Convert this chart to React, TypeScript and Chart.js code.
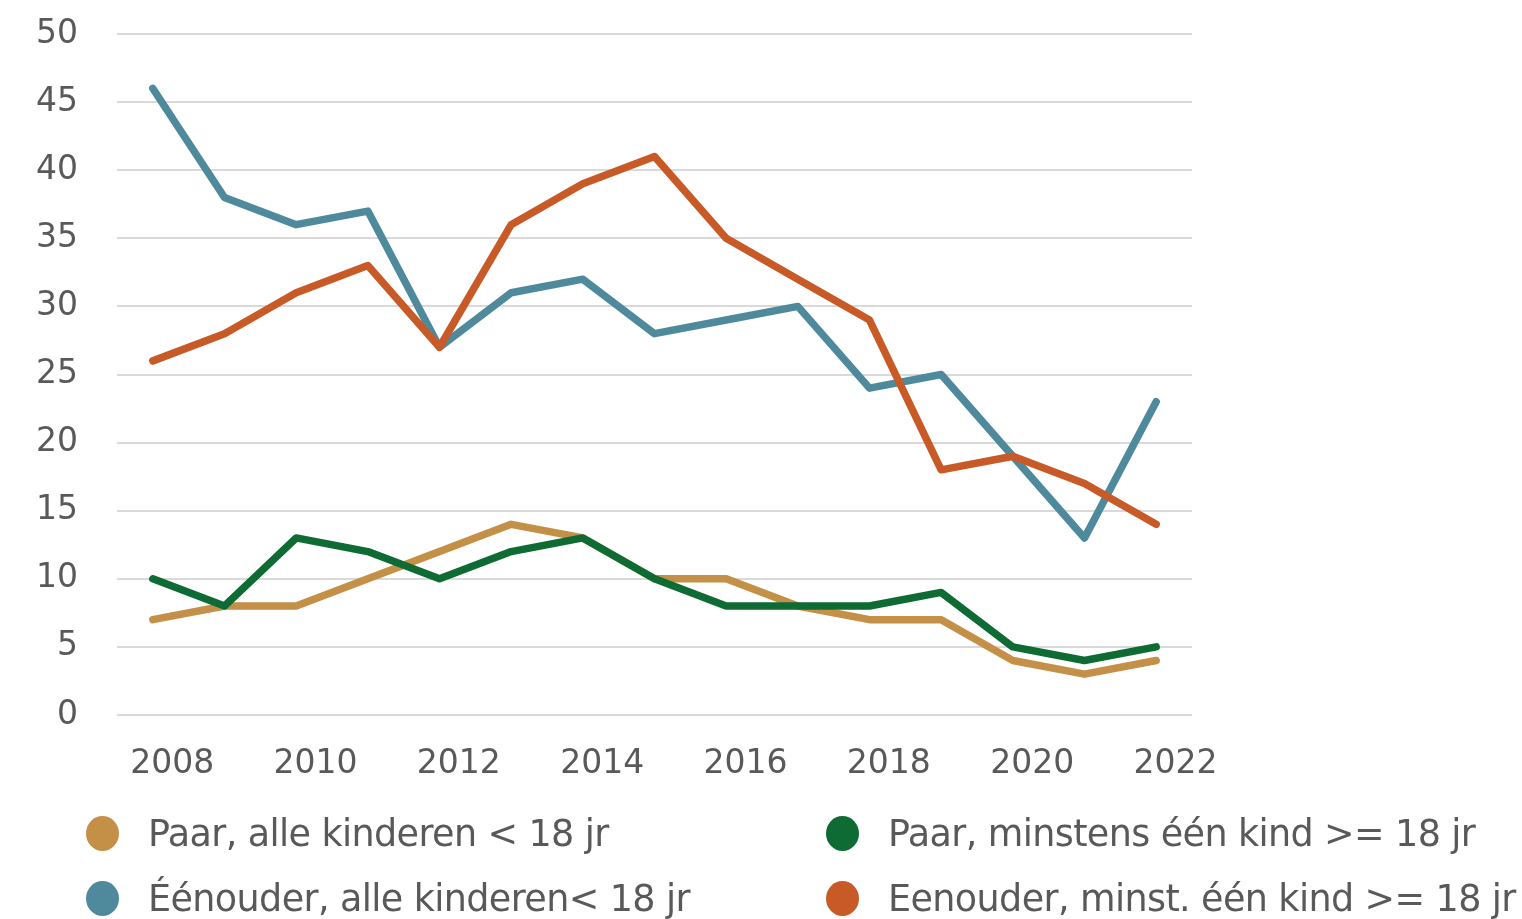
import React, { useEffect, useRef } from "react";
import { Chart, registerables } from "chart.js";

Chart.register(...registerables);

const categories = ["2008", "2009", "2010", "2011", "2012", "2013", "2014", "2015", "2016", "2017", "2018", "2019", "2020", "2021", "2022"];
const tickLabels = ["2008", "2010", "2012", "2014", "2016", "2018", "2020", "2022"];
const yTicks = [0, 5, 10, 15, 20, 25, 30, 35, 40, 45, 50];

const paarAlle = [7, 8, 8, 10, 12, 14, 13, 10, 10, 8, 7, 7, 4, 3, 4];
const paarMinstens = [10, 8, 13, 12, 10, 12, 13, 10, 8, 8, 8, 9, 5, 4, 5];
const eenouderAlle = [46, 38, 36, 37, 27, 31, 32, 28, 29, 30, 24, 25, 19, 13, 23];
const eenouderMinst = [26, 28, 31, 33, 27, 36, 39, 41, 35, 32, 29, 18, 19, 17, 14];

const seriesNames = [
  "Paar, alle kinderen < 18 jr",
  "Paar, minstens één kind >= 18 jr",
  "Éénouder, alle kinderen< 18 jr",
  "Eenouder, minst. één kind >= 18 jr",
];
const seriesColors = ["#C48F47", "#0E6B34", "#4F8A9C", "#C85A27"];
const seriesValues = [paarAlle, paarMinstens, eenouderAlle, eenouderMinst];
const drawOrder = [3, 2, 1, 0];

const FONT = "'DejaVu Sans', Verdana, sans-serif";
const TEXT = "#595959";

export default function App() {
  const ref = useRef<HTMLCanvasElement | null>(null);

  useEffect(() => {
    if (!ref.current) return;
    const chart = new Chart(ref.current, {
      type: "line",
      data: {
        labels: categories,
        datasets: seriesValues.map((vals, i) => ({
          label: seriesNames[i],
          data: vals,
          borderColor: seriesColors[i],
          backgroundColor: seriesColors[i],
          borderWidth: 7.5,
          borderCapStyle: "round" as const,
          borderJoinStyle: "round" as const,
          pointRadius: 0,
          tension: 0,
          order: drawOrder[i],
          xAxisID: "x",
        })),
      },
      options: {
        responsive: false,
        animation: false,
        layout: { padding: { top: 34, right: 330, bottom: 134, left: 0 } },
        plugins: { legend: { display: false }, tooltip: { enabled: false } },
        scales: {
          x: {
            type: "category",
            offset: true,
            display: false,
          },
          x2: {
            type: "linear",
            position: "bottom",
            min: -0.5,
            max: 14.5,
            grid: { display: false },
            border: { display: false },
            afterBuildTicks: (axis: any) => {
              axis.ticks = tickLabels.map((t) => ({ value: categories.indexOf(t) + 0.27 }));
            },
            afterFit: (axis: any) => {
              axis.height = 70;
              axis.paddingLeft = 0;
              axis.paddingRight = 0;
            },
            ticks: {
              padding: 22,
              color: TEXT,
              font: { family: FONT, size: 33 },
              maxRotation: 0,
              autoSkip: false,
              callback: (_v: any, idx: number) => tickLabels[idx],
            },
          },
          y: {
            min: 0,
            max: 50,
            afterBuildTicks: (axis: any) => {
              axis.ticks = yTicks.map((v) => ({ value: v }));
            },
            afterFit: (axis: any) => {
              axis.width = 117;
              axis.paddingTop = 0;
              axis.paddingBottom = 0;
            },
            grid: { color: "#D9D9D9", lineWidth: 2, drawTicks: false },
            border: { display: false },
            ticks: {
              padding: 39,
              color: TEXT,
              font: { family: FONT, size: 33 },
            },
          },
        },
      },
    });
    return () => chart.destroy();
  }, []);

  const legendPos = [
    { x: 103, y: 833 },
    { x: 843, y: 833 },
    { x: 103, y: 898 },
    { x: 843, y: 898 },
  ];

  return (
    <div style={{ position: "absolute", left: 0, top: 0, width: 1522, height: 919, background: "#fff", overflow: "hidden" }}>
      <canvas ref={ref} width={1522} height={919} style={{ display: "block" }} />
      {seriesNames.map((name, i) => (
        <div
          key={name}
          style={{
            position: "absolute",
            left: legendPos[i].x - 17,
            top: legendPos[i].y - 22,
            height: 44,
            display: "flex",
            alignItems: "center",
            whiteSpace: "nowrap",
            fontFamily: FONT,
            fontSize: 36.5,
            letterSpacing: -0.6,
            color: TEXT,
          }}
        >
          <span
            style={{
              display: "inline-block",
              width: 33,
              height: 35,
              borderRadius: "50%",
              background: seriesColors[i],
              marginRight: 29,
              flexShrink: 0,
            }}
          />
          <span>{name}</span>
        </div>
      ))}
    </div>
  );
}
